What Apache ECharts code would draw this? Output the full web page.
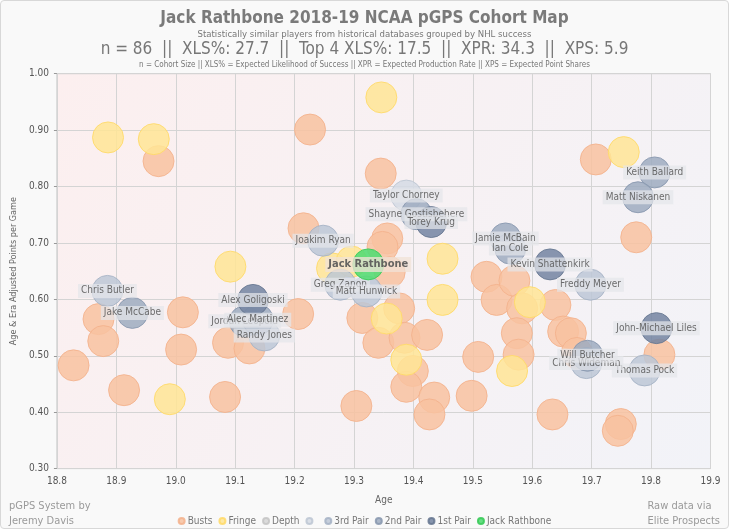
<!DOCTYPE html>
<html>
<head>
<meta charset="utf-8">
<script src="https://cdn.jsdelivr.net/npm/echarts@6/dist/echarts.min.js"></script>
<style>
html,body{margin:0;padding:0;background:#ffffff;}
#c{position:absolute;left:0;top:0;width:727px;height:527px;border:1px solid #d8d8d8;border-radius:4px;background:#f9f9f9;}
</style>
</head>
<body>
<div id="c"></div>
<script>
// ---- Data (age, age & era adjusted points per game) ----
var busts = [
  [18.971,0.845],[19.226,0.901],[19.345,0.823],[19.215,0.726],[19.356,0.708],[19.348,0.693],
  [19.360,0.648],[18.870,0.565],[18.878,0.526],[18.828,0.483],[18.913,0.439],[19.012,0.577],
  [19.009,0.511],[19.083,0.427],[19.088,0.523],[19.124,0.513],[19.206,0.574],[19.304,0.411],
  [19.314,0.567],[19.376,0.584],[19.341,0.523],[19.385,0.532],[19.423,0.537],[19.399,0.473],
  [19.388,0.445],[19.435,0.426],[19.427,0.396],[19.498,0.429],[19.509,0.498],[19.523,0.640],
  [19.540,0.599],[19.570,0.633],[19.583,0.584],[19.639,0.590],[19.652,0.543],[19.665,0.540],
  [19.574,0.540],[19.577,0.502],[19.634,0.396],[19.749,0.379],[19.744,0.367],[19.814,0.502],
  [19.675,0.505],[19.707,0.848],[19.775,0.710]
];
var fringe = [
  [18.886,0.887],[18.963,0.884],[19.092,0.658],[19.346,0.958],[19.449,0.672],[19.263,0.655],
  [19.296,0.667],[18.990,0.423],[19.355,0.566],[19.388,0.493],[19.449,0.599],[19.596,0.595],
  [19.566,0.473],[19.754,0.861]
];
var depth = [];
var blankTier = [ ["Taylor Chorney",19.388,0.784] ];
var thirdPair = [
  ["Joakim Ryan",19.248,0.704],["Greg Zanon",19.277,0.626],["Matt Hunwick",19.321,0.614],
  ["Chris Butler",18.885,0.615],["Randy Jones",19.149,0.536],["Freddy Meyer",19.698,0.626],
  ["Thomas Pock",19.789,0.474],["Chris Wideman",19.691,0.487]
];
var secondPair = [
  ["Shayne Gostisbehere",19.405,0.751],["Jamie McBain",19.555,0.708],["Ian Cole",19.563,0.690],
  ["Keith Ballard",19.806,0.825],["Matt Niskanen",19.778,0.781],["Jake McCabe",18.927,0.576],
  ["Jordan Leopold",19.116,0.561],["Alec Martinez",19.138,0.564],["Will Butcher",19.693,0.500]
];
var firstPair = [
  ["Torey Krug",19.430,0.737],["Kevin Shattenkirk",19.630,0.662],["Alex Goligoski",19.130,0.599],
  ["John-Michael Liles",19.809,0.549]
];
var player = [ ["Jack Rathbone",19.324,0.662] ];
var xTicks = [18.8,18.9,19.0,19.1,19.2,19.3,19.4,19.5,19.6,19.7,19.8,19.9];
var yTicks = [0.30,0.40,0.50,0.60,0.70,0.80,0.90,1.00];

var FONT = "'DejaVu Sans Condensed','Liberation Sans Narrow','Roboto',sans-serif";
var chart = echarts.init(document.getElementById('c'), null, {renderer:'canvas'});

function named(arr){ return arr.map(function(d){ return {name:d[0], value:[d[1],d[2]]}; }); }
var SIZE = 31;
var labelCfg = {
  show:true, position:'inside', formatter:'{b}', fontFamily:FONT, fontSize:10, color:'#555',
  backgroundColor:'rgba(228,230,234,0.85)', padding:[2,3]
};
function tier(name, data, fill, border, lab){
  return {
    name:name, type:'scatter', symbolSize:SIZE, data:data,
    itemStyle:{color:fill, borderColor:border, borderWidth:1, opacity:0.85},
    label: lab ? labelCfg : {show:false},
    emphasis:{disabled:true}
  };
}

var option = {
  animation:false,
  textStyle:{fontFamily:FONT},
  title:[
    {text:'Jack Rathbone 2018-19 NCAA pGPS Cohort Map', left:'center', top:4,
      textStyle:{fontFamily:FONT, fontSize:17, fontWeight:'bold', color:'#7a7a7a'}},
    {text:'Statistically similar players from historical databases grouped by NHL success', left:'center', top:24,
      textStyle:{fontFamily:FONT, fontSize:9.5, fontWeight:'normal', color:'#777'}},
    {text:'n = 86  ||  XLS%: 27.7  ||  Top 4 XLS%: 17.5  ||  XPR: 34.3  ||  XPS: 5.9', left:'center', top:35,
      textStyle:{fontFamily:FONT, fontSize:17, fontWeight:'normal', color:'#777'}},
    {text:'n = Cohort Size || XLS% = Expected Likelihood of Success || XPR = Expected Production Rate || XPS = Expected Point Shares', left:'center', top:55,
      textStyle:{fontFamily:FONT, fontSize:8, fontWeight:'normal', color:'#777'}}
  ],
  grid:{left:50.5, right:17.5, top:72.7, bottom:59.4, show:true, borderColor:'#c8c8c8', borderWidth:1,
    backgroundColor:new echarts.graphic.LinearGradient(0,0,1,1,[{offset:0,color:'#fcefef'},{offset:1,color:'#f2f3f8'}])},
  legend:{
    top:515, left:'center', padding:[0,5], itemWidth:6, itemHeight:6, itemGap:6, icon:'circle',
    textStyle:{fontFamily:FONT, fontSize:10, color:'#777', padding:[0,0,0,-2]},
    data:['Busts','Fringe','Depth',' ','3rd Pair','2nd Pair','1st Pair','Jack Rathbone']
  },
  xAxis:{
    type:'value', min:xTicks[0], max:xTicks[xTicks.length-1], interval:0.1,
    name:'Age', nameLocation:'middle', nameGap:27,
    nameTextStyle:{fontFamily:FONT, fontSize:10, color:'#666'},
    axisLine:{show:false}, axisTick:{show:false},
    axisLabel:{fontFamily:FONT, fontSize:10, color:'#555', formatter:function(v){return v.toFixed(1);}},
    splitLine:{show:true, lineStyle:{color:'#d4d4d4', width:1}}
  },
  yAxis:{
    type:'value', min:yTicks[0], max:yTicks[yTicks.length-1], interval:0.1,
    name:'Age & Era Adjusted Points per Game', nameLocation:'middle', nameGap:34,
    nameTextStyle:{fontFamily:FONT, fontSize:9, color:'#666'},
    axisLine:{show:false}, axisTick:{show:true, length:3, lineStyle:{color:'#999'}},
    axisLabel:{fontFamily:FONT, fontSize:10, color:'#555', formatter:function(v){return v.toFixed(2);}},
    splitLine:{show:true, lineStyle:{color:'#d4d4d4', width:1}}
  },
  graphic:[
    {type:'text', left:8, top:498, style:{text:'pGPS System by\nJeremy Davis', font:"11px "+FONT, fill:'#9a9a9a', lineHeight:15}},
    {type:'text', right:8, top:498, style:{text:'Raw data via\nElite Prospects', font:"11px "+FONT, fill:'#9a9a9a', lineHeight:15, align:'right'}}
  ],
  series:[
    tier('Busts', busts, '#f8c2a0', '#f3b28c', false),
    tier('Fringe', fringe, '#ffe595', '#ffd966', false),
    tier('Depth', depth, '#d6d6d6', '#c4c4c4', true),
    tier(' ', named(blankTier), '#d5dbe4', '#bcc5d2', true),
    tier('3rd Pair', named(thirdPair), '#bcc7d6', '#a4b1c4', true),
    tier('2nd Pair', named(secondPair), '#9dabc0', '#8796ae', true),
    tier('1st Pair', named(firstPair), '#7384a1', '#65758f', true),
    {
      name:'Jack Rathbone', type:'scatter', symbolSize:SIZE, data:named(player), z:5,
      itemStyle:{color:'#55dc74', borderColor:'#3ccb5b', borderWidth:1, opacity:0.9},
      label:{show:true, position:'inside', formatter:'{b}', fontFamily:FONT, fontSize:11, fontWeight:'bold',
        color:'#555', backgroundColor:'rgba(240,226,214,0.85)', padding:[2,3]},
      emphasis:{disabled:true}
    }
  ]
};
chart.setOption(option);
</script>
</body>
</html>
